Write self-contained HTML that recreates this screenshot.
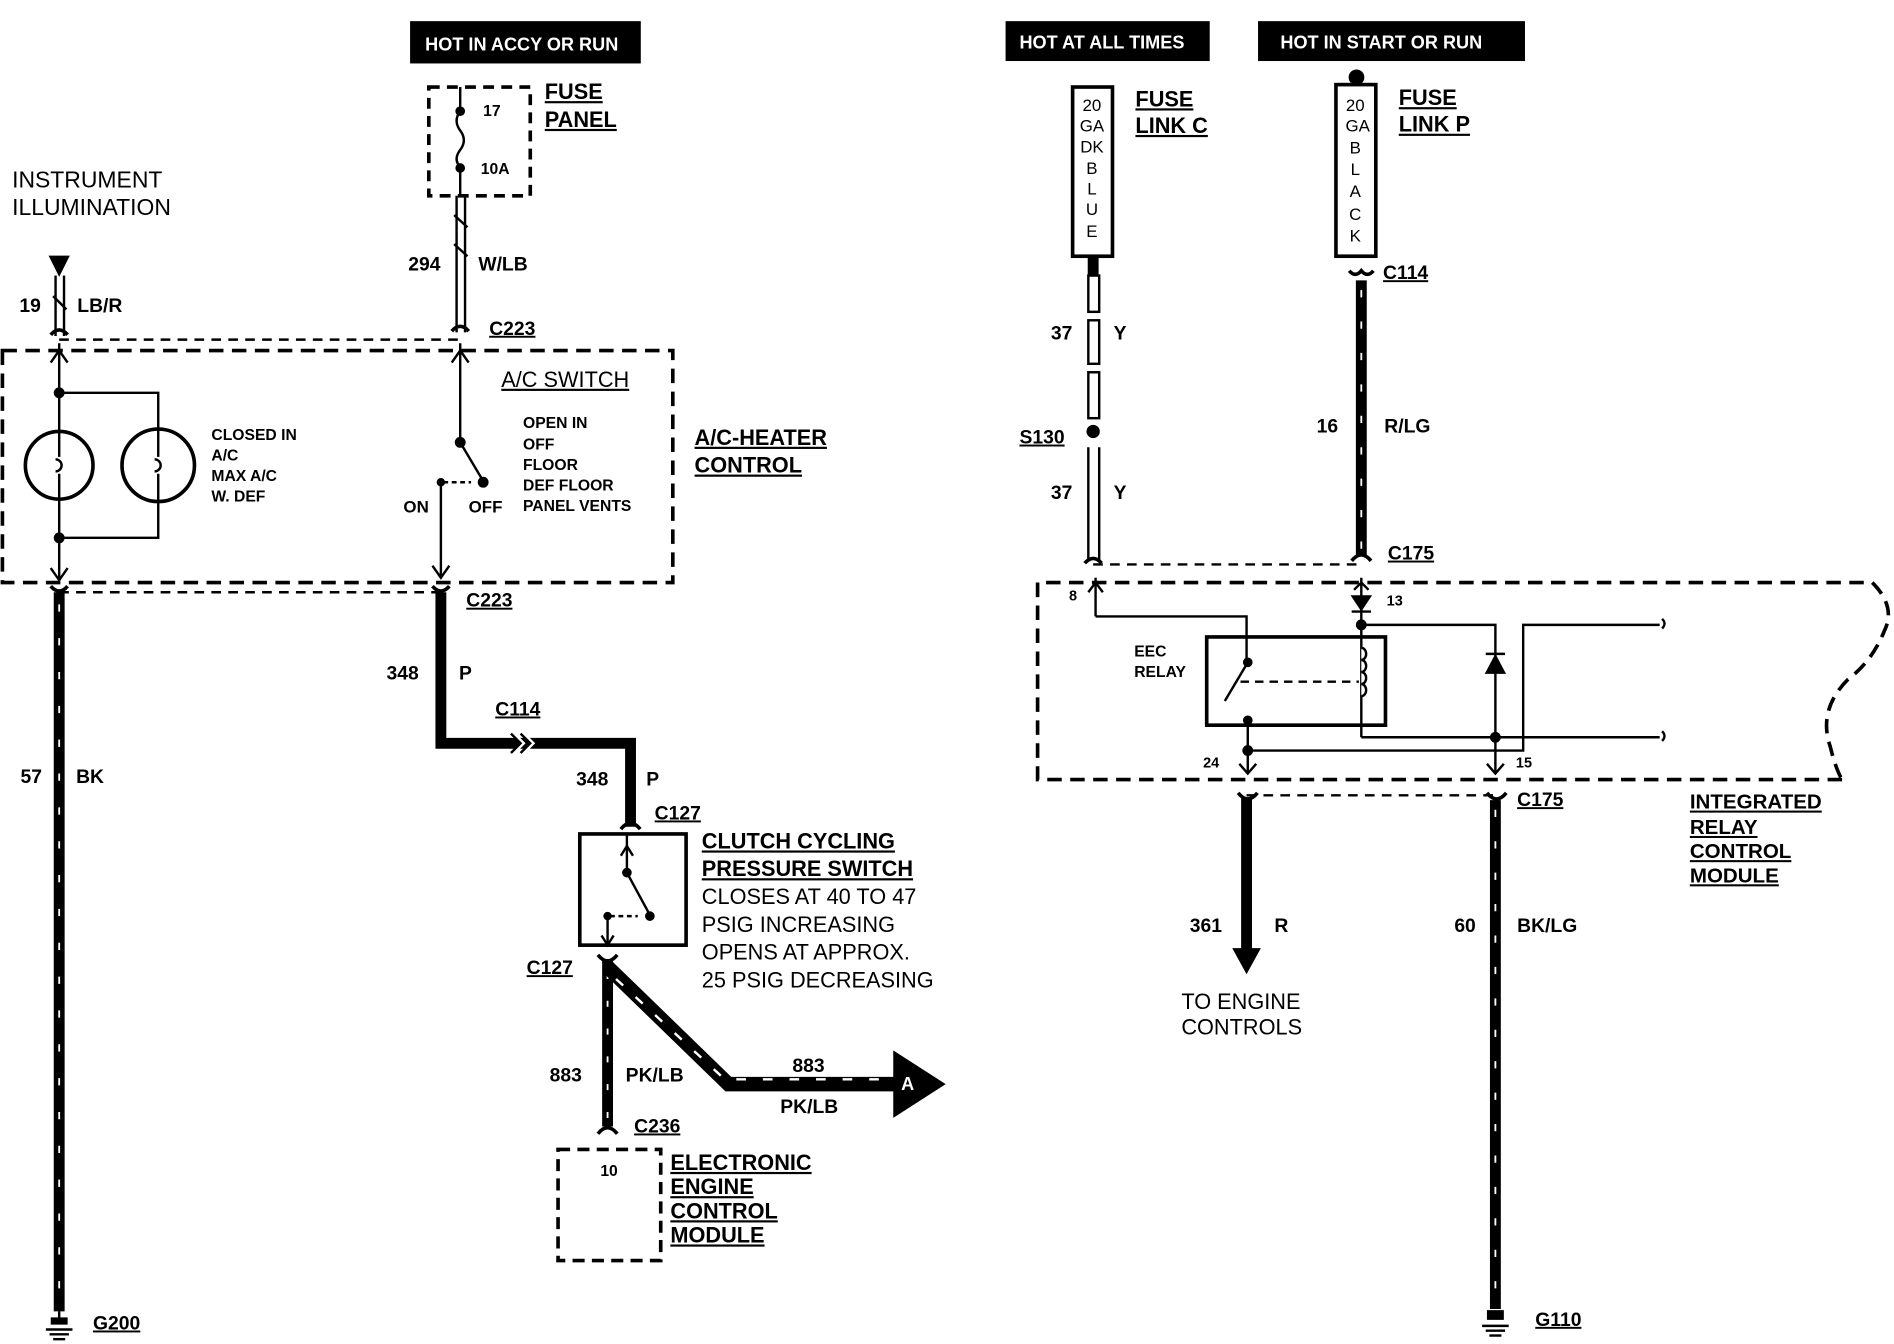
<!DOCTYPE html>
<html><head><meta charset="utf-8"><style>
html,body{margin:0;padding:0;background:#fff;width:1894px;height:1344px;overflow:hidden}
svg{display:block}
text{font-family:"Liberation Sans",sans-serif;fill:#000}
.b{font-weight:bold}
.u{text-decoration:underline}
</style></head><body>
<svg width="1894" height="1344" viewBox="0 0 1568 1112" preserveAspectRatio="none" xmlns="http://www.w3.org/2000/svg">
<g fill="none" stroke="#000">
<rect x="340" y="18" width="190" height="34" fill="#000"/>
<rect x="833" y="18" width="168" height="32" fill="#000"/>
<rect x="1042" y="18" width="220" height="32" fill="#000"/>

<rect x="355" y="72" width="84" height="90" stroke-width="3" stroke-dasharray="9,6"/>
<line x1="381" y1="72" x2="381" y2="92" stroke-width="2"/>
<path d="M381 92 q-6 8 0 16 q6 8 0 16 q-6 8 0 14" stroke-width="2"/>
<line x1="381" y1="138" x2="381" y2="162" stroke-width="2"/>
<circle cx="381" cy="92" r="3.5" fill="#000"/><circle cx="381" cy="139" r="3.5" fill="#000"/>
<line x1="378" y1="162" x2="378" y2="275" stroke-width="2"/>
<line x1="385" y1="162" x2="385" y2="275" stroke-width="2"/>
<line x1="376" y1="178" x2="387" y2="188" stroke-width="2"/>
<line x1="376" y1="202" x2="387" y2="212" stroke-width="2"/>
<path d="M374 274 q7 -8 14 0" stroke-width="3"/>
<path d="M41 212 L57 212 L49 228 Z" fill="#000"/>
<line x1="46" y1="228" x2="46" y2="278" stroke-width="2"/>
<line x1="53" y1="228" x2="53" y2="278" stroke-width="2"/>
<line x1="44" y1="245" x2="55" y2="256" stroke-width="2"/>
<path d="M42 277 q7 -8 14 0" stroke-width="3"/>
<line x1="49" y1="281" x2="381" y2="281" stroke-width="2" stroke-dasharray="8,6"/>
<rect x="2" y="290" width="555" height="192" stroke-width="3" stroke-dasharray="12,7"/>
<line x1="49" y1="284" x2="49" y2="480" stroke-width="2"/>
<path d="M42 300 L49 290 L56 300" stroke-width="2"/>
<path d="M42 470 L49 480 L56 470" stroke-width="2"/>
<circle cx="49" cy="325" r="4" fill="#000"/><circle cx="49" cy="445" r="4" fill="#000"/>
<path d="M49 325 H131 V445 H49" stroke-width="2"/>
<circle cx="49" cy="385" r="28" fill="#fff" stroke-width="3"/>
<circle cx="131" cy="385" r="30" fill="#fff" stroke-width="3"/>
<path d="M49 357 V378 M49 392 V413 M46 380 a5 5 0 1 1 0 10" stroke-width="2"/>
<path d="M131 355 V378 M131 392 V415 M128 380 a5 5 0 1 1 0 10" stroke-width="2"/>
<line x1="381" y1="284" x2="381" y2="365" stroke-width="2"/>
<path d="M374 300 L381 290 L388 300" stroke-width="2"/>
<circle cx="381" cy="366" r="4" fill="#000"/>
<line x1="381" y1="366" x2="400" y2="398" stroke-width="2"/>
<circle cx="400" cy="399" r="4" fill="#000"/>
<circle cx="365" cy="399" r="3" fill="#000"/>
<line x1="367" y1="399" x2="390" y2="399" stroke-width="2" stroke-dasharray="4,3"/>
<line x1="365" y1="399" x2="365" y2="478" stroke-width="2"/>
<path d="M358 468 L365 478 L372 468" stroke-width="2"/>
<line x1="49" y1="490" x2="365" y2="490" stroke-width="2" stroke-dasharray="8,6"/>
<path d="M42 485 q7 8 14 0" stroke-width="3"/>
<path d="M358 485 q7 8 14 0" stroke-width="3"/>
<line x1="49" y1="490" x2="49" y2="1085" stroke-width="9"/>
<line x1="49" y1="500" x2="49" y2="1080" stroke="#fff" stroke-width="1.5" stroke-dasharray="6,22"/>
<line x1="49" y1="1085" x2="49" y2="1095" stroke-width="2"/>
<path d="M42 1090 h14 v6 h-14 z" fill="#000" stroke="none"/>
<line x1="38" y1="1100" x2="60" y2="1100" stroke-width="2"/>
<line x1="41" y1="1104" x2="57" y2="1104" stroke-width="2"/>
<line x1="44" y1="1108" x2="54" y2="1108" stroke-width="2"/>
<path d="M365 490 V615 H522 V684" stroke-width="9"/>
<path d="M425 607 l8 8 l-8 8 M433 607 l8 8 l-8 8" stroke="#fff" stroke-width="3"/>
<path d="M423 607 l8 8 l-8 8 M431 607 l8 8 l-8 8" stroke-width="2"/>
<path d="M514 686 q8 -10 16 0" stroke-width="3"/>
<rect x="480" y="690" width="88" height="92" stroke-width="3"/>
<line x1="519" y1="690" x2="519" y2="720" stroke-width="2"/>
<path d="M514 708 L519 700 L524 708" stroke-width="2"/>
<circle cx="519" cy="722" r="3.5" fill="#000"/>
<line x1="519" y1="722" x2="538" y2="757" stroke-width="2"/>
<circle cx="538" cy="758" r="3.5" fill="#000"/>
<circle cx="503" cy="758" r="3" fill="#000"/>
<line x1="505" y1="758" x2="528" y2="758" stroke-width="2" stroke-dasharray="4,3"/>
<line x1="503" y1="758" x2="503" y2="782" stroke-width="2"/>
<path d="M498 774 L503 782 L508 774" stroke-width="2"/>
<path d="M495 790 q8 10 16 0" stroke-width="3"/>
<line x1="503" y1="795" x2="503" y2="932" stroke-width="9"/>
<line x1="503" y1="805" x2="503" y2="930" stroke="#fff" stroke-width="1.5" stroke-dasharray="5,18"/>
<path d="M503 800 L603 897 H742" stroke-width="12"/>
<path d="M510 810 L600 893 H742" stroke="#fff" stroke-width="2" stroke-dasharray="8,14"/>
<path d="M740 870 L782 897 L740 924 Z" fill="#000"/>
<path d="M495 938 q8 -10 16 0" stroke-width="3"/>
<rect x="462" y="951" width="85" height="92" stroke-width="3" stroke-dasharray="10,6"/>

<rect x="888" y="72" width="33" height="140" stroke-width="3"/>
<line x1="905" y1="212" x2="905" y2="228" stroke-width="9"/>
<rect x="901" y="228" width="9" height="30" stroke-width="2"/>
<rect x="901" y="265" width="9" height="36" stroke-width="2"/>
<rect x="901" y="308" width="9" height="38" stroke-width="2"/>
<circle cx="905" cy="357" r="5" fill="#000"/>
<line x1="901" y1="370" x2="901" y2="463" stroke-width="2"/>
<line x1="910" y1="370" x2="910" y2="463" stroke-width="2"/>
<path d="M898 466 q7 -8 14 0" stroke-width="3"/>
<circle cx="1123" cy="64" r="6" fill="#000"/>
<rect x="1106" y="70" width="33" height="142" stroke-width="3"/>
<path d="M1117 224 q5 6 10 0 q5 6 10 0" stroke-width="3"/>
<line x1="1127" y1="232" x2="1127" y2="460" stroke-width="9"/>
<line x1="1127" y1="240" x2="1127" y2="455" stroke="#fff" stroke-width="1.5" stroke-dasharray="6,20"/>
<path d="M1119 464 q8 -10 16 0" stroke-width="3"/>
<line x1="905" y1="467" x2="1127" y2="467" stroke-width="2" stroke-dasharray="8,6"/>
<path d="M1525 645 H859 V482 H1550 q20 20 10 40 q-10 25 -30 40 q-25 25 -15 55 q5 20 10 28" stroke-width="3" stroke-dasharray="12,7"/>
<line x1="907" y1="478" x2="907" y2="510" stroke-width="2"/>
<path d="M901 490 L907 482 L913 490" stroke-width="2"/>
<path d="M907 510 H1032 V546" stroke-width="2"/>
<rect x="999" y="527" width="148" height="73" stroke-width="3"/>
<circle cx="1033" cy="548" r="3.5" fill="#000"/>
<line x1="1033" y1="548" x2="1014" y2="580" stroke-width="2"/>
<line x1="1027" y1="564" x2="1125" y2="564" stroke-width="2" stroke-dasharray="7,5"/>
<circle cx="1033" cy="596" r="3.5" fill="#000"/>
<line x1="1033" y1="596" x2="1033" y2="640" stroke-width="2"/>
<circle cx="1033" cy="621" r="4" fill="#000"/>
<path d="M1026 632 L1033 640 L1040 632" stroke-width="2"/>
<line x1="1127" y1="478" x2="1127" y2="610" stroke-width="2"/>
<path d="M1121 488 L1127 482 L1133 488" stroke-width="2"/>
<path d="M1119 493 H1135 L1127 505 Z" fill="#000"/>
<line x1="1119" y1="506" x2="1135" y2="506" stroke-width="2"/>
<circle cx="1127" cy="517" r="4" fill="#000"/>
<path d="M1127 536 a4 5 0 0 1 0 10 a4 5 0 0 1 0 10 a4 5 0 0 1 0 10 a4 5 0 0 1 0 10" stroke-width="2" fill="#fff"/>
<path d="M1127 517 H1238 V640" stroke-width="2"/>
<path d="M1230 557 H1246 L1238 542 Z" fill="#000"/>
<line x1="1230" y1="541" x2="1246" y2="541" stroke-width="2"/>
<path d="M1127 610 H1374" stroke-width="2"/>
<circle cx="1238" cy="610" r="4" fill="#000"/>
<path d="M1231 632 L1238 640 L1245 632" stroke-width="2"/>
<path d="M1033 621 H1261 V517 H1374" stroke-width="2"/>
<path d="M1376 512 q4 4 0 8 M1376 605 q4 4 0 8" stroke-width="2"/>
<line x1="1032" y1="658" x2="1238" y2="658" stroke-width="2" stroke-dasharray="8,6"/>
<path d="M1025 656 q8 10 16 0 M1231 656 q8 10 16 0" stroke-width="3"/>
<line x1="1032" y1="660" x2="1032" y2="790" stroke-width="9"/>
<path d="M1021 785 L1043 785 L1032 805 Z" fill="#000"/>
<line x1="1238" y1="662" x2="1238" y2="1083" stroke-width="9"/>
<line x1="1238" y1="670" x2="1238" y2="1080" stroke="#fff" stroke-width="1.5" stroke-dasharray="6,20"/>
<path d="M1231 1084 h14 v8 h-14 z" fill="#000" stroke="none"/>
<line x1="1227" y1="1097" x2="1249" y2="1097" stroke-width="2"/>
<line x1="1230" y1="1101" x2="1246" y2="1101" stroke-width="2"/>
<line x1="1233" y1="1105" x2="1243" y2="1105" stroke-width="2"/>
</g>

<g class="b">
<text x="352" y="42" font-size="15" style="fill:#fff">HOT IN ACCY OR RUN</text>
<text x="844" y="40" font-size="15" style="fill:#fff">HOT AT ALL TIMES</text>
<text x="1060" y="40" font-size="15" style="fill:#fff">HOT IN  START OR RUN</text>
<text x="400" y="96" font-size="13">17</text>
<text x="398" y="144" font-size="13">10A</text>
<text x="451" y="82" font-size="18" class="u">FUSE</text>
<text x="451" y="105" font-size="18" class="u">PANEL</text>
<text x="10" y="155" font-size="19" font-weight="normal">INSTRUMENT</text>
<text x="10" y="178" font-size="19" font-weight="normal">ILLUMINATION</text>
<text x="338" y="224" font-size="16">294</text>
<text x="396" y="224" font-size="16">W/LB</text>
<text x="16" y="258" font-size="16">19</text>
<text x="64" y="258" font-size="16">LB/R</text>
<text x="405" y="277" font-size="16" class="u">C223</text>
<text x="415" y="320" font-size="18" font-weight="normal" class="u">A/C SWITCH</text>
<text x="175" y="364" font-size="13">CLOSED IN</text>
<text x="175" y="381" font-size="13">A/C</text>
<text x="175" y="398" font-size="13">MAX A/C</text>
<text x="175" y="415" font-size="13">W. DEF</text>
<text x="433" y="354" font-size="13">OPEN IN</text>
<text x="433" y="372" font-size="13">OFF</text>
<text x="433" y="389" font-size="13">FLOOR</text>
<text x="433" y="406" font-size="13">DEF FLOOR</text>
<text x="433" y="423" font-size="13">PANEL VENTS</text>
<text x="334" y="424" font-size="14">ON</text>
<text x="388" y="424" font-size="14">OFF</text>
<text x="575" y="368" font-size="18" class="u">A/C-HEATER</text>
<text x="575" y="391" font-size="18" class="u">CONTROL</text>
<text x="386" y="502" font-size="16" class="u">C223</text>
<text x="320" y="562" font-size="16">348</text>
<text x="380" y="562" font-size="16">P</text>
<text x="410" y="592" font-size="16" class="u">C114</text>
<text x="17" y="648" font-size="16">57</text>
<text x="63" y="648" font-size="16">BK</text>
<text x="477" y="650" font-size="16">348</text>
<text x="535" y="650" font-size="16">P</text>
<text x="542" y="678" font-size="16" class="u">C127</text>
<text x="581" y="702" font-size="18" class="u">CLUTCH CYCLING</text>
<text x="581" y="725" font-size="18" class="u">PRESSURE SWITCH</text>
<text x="581" y="748" font-size="18" font-weight="normal">CLOSES AT 40 TO 47</text>
<text x="581" y="771" font-size="18" font-weight="normal">PSIG INCREASING</text>
<text x="581" y="794" font-size="18" font-weight="normal">OPENS AT APPROX.</text>
<text x="581" y="817" font-size="18" font-weight="normal">25 PSIG DECREASING</text>
<text x="436" y="806" font-size="16" class="u">C127</text>
<text x="455" y="895" font-size="16">883</text>
<text x="518" y="895" font-size="16">PK/LB</text>
<text x="656" y="887" font-size="16">883</text>
<text x="646" y="921" font-size="16">PK/LB</text>
<text x="746" y="902" font-size="15" style="fill:#fff">A</text>
<text x="525" y="937" font-size="16" class="u">C236</text>
<text x="497" y="973" font-size="13">10</text>
<text x="555" y="968" font-size="18" class="u">ELECTRONIC</text>
<text x="555" y="988" font-size="18" class="u">ENGINE</text>
<text x="555" y="1008" font-size="18" class="u">CONTROL</text>
<text x="555" y="1028" font-size="18" class="u">MODULE</text>
<text x="77" y="1100" font-size="16" class="u">G200</text>

<g font-size="14" font-weight="normal" text-anchor="middle">
<text x="904" y="92">20</text><text x="904" y="109">GA</text><text x="904" y="126">DK</text><text x="904" y="144">B</text><text x="904" y="161">L</text><text x="904" y="178">U</text><text x="904" y="196">E</text>
<text x="1122" y="92">20</text><text x="1124" y="109">GA</text><text x="1122" y="127">B</text><text x="1122" y="145">L</text><text x="1122" y="163">A</text><text x="1122" y="182">C</text><text x="1122" y="200">K</text>
</g>
<text x="940" y="88" font-size="18" class="u">FUSE</text>
<text x="940" y="110" font-size="18" class="u">LINK C</text>
<text x="1158" y="87" font-size="18" class="u">FUSE</text>
<text x="1158" y="109" font-size="18" class="u">LINK P</text>
<text x="1145" y="231" font-size="16" class="u">C114</text>
<text x="870" y="281" font-size="16">37</text>
<text x="922" y="281" font-size="16">Y</text>
<text x="1090" y="358" font-size="16">16</text>
<text x="1146" y="358" font-size="16">R/LG</text>
<text x="844" y="367" font-size="16" class="u">S130</text>
<text x="870" y="413" font-size="16">37</text>
<text x="922" y="413" font-size="16">Y</text>
<text x="1149" y="463" font-size="16" class="u">C175</text>
<text x="885" y="497" font-size="12">8</text>
<text x="1148" y="501" font-size="12">13</text>
<text x="939" y="543" font-size="13">EEC</text>
<text x="939" y="560" font-size="13">RELAY</text>
<text x="996" y="635" font-size="12">24</text>
<text x="1255" y="635" font-size="12">15</text>
<text x="1256" y="667" font-size="16" class="u">C175</text>
<text x="1399" y="669" font-size="17" class="u">INTEGRATED</text>
<text x="1399" y="690" font-size="17" class="u">RELAY</text>
<text x="1399" y="710" font-size="17" class="u">CONTROL</text>
<text x="1399" y="730" font-size="17" class="u">MODULE</text>
<text x="985" y="771" font-size="16">361</text>
<text x="1055" y="771" font-size="16">R</text>
<text x="1204" y="771" font-size="16">60</text>
<text x="1256" y="771" font-size="16">BK/LG</text>
<text x="978" y="835" font-size="18" font-weight="normal">TO ENGINE</text>
<text x="978" y="856" font-size="18" font-weight="normal">CONTROLS</text>
<text x="1271" y="1097" font-size="16" class="u">G110</text>
</g>
</svg>
</body></html>
